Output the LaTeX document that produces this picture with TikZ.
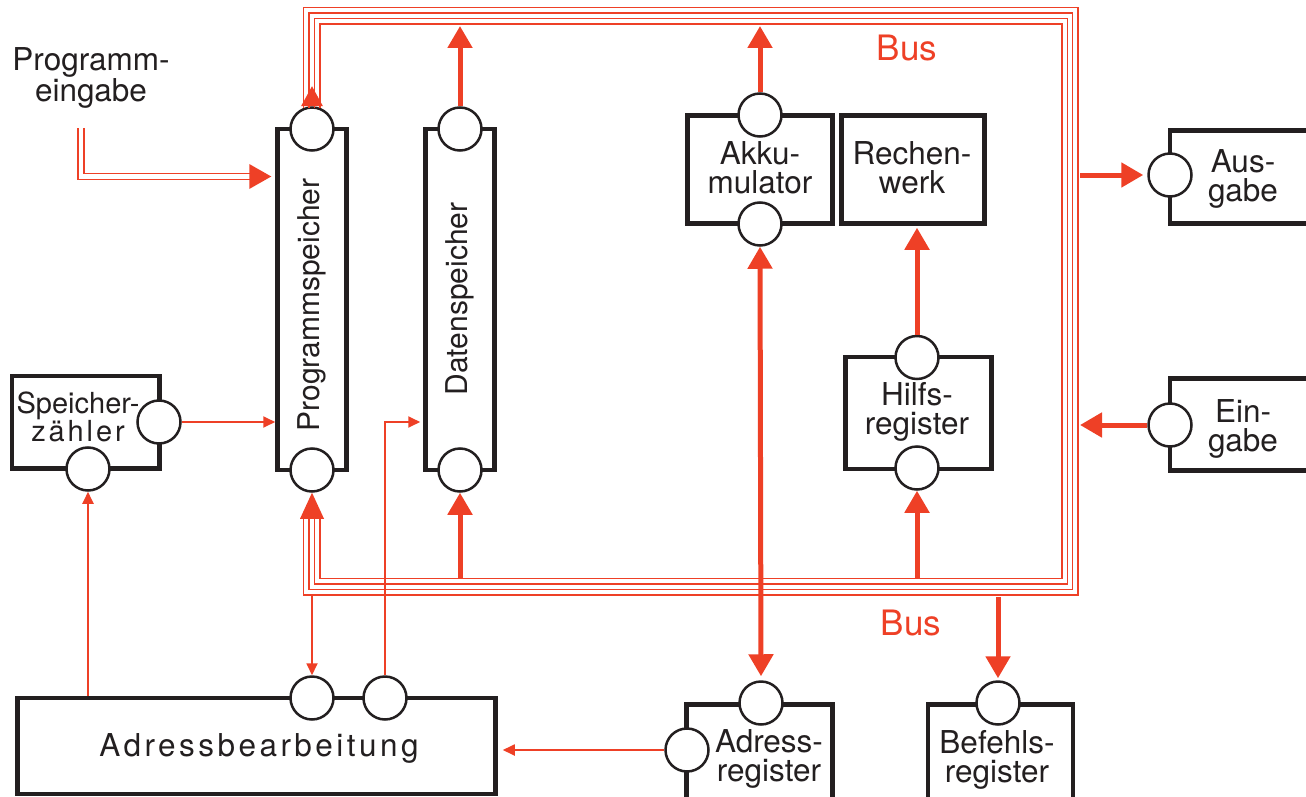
\documentclass[tikz,border=0pt]{standalone}
\usepackage{fontspec}
\setmainfont{TeX Gyre Heros}
\usetikzlibrary{arrows.meta}
\definecolor{busred}{RGB}{238,64,38}
\definecolor{ink}{RGB}{35,31,32}
\begin{document}
\begin{tikzpicture}[x=1pt,y=-1pt,
  box/.style={draw=ink, line width=4.5pt, fill=white, inner sep=0pt},
  port/.style={circle, draw=ink, line width=2.5pt, fill=white, minimum size=43pt, inner sep=0pt},
  txt/.style={font=\fontsize{31.5}{29}\selectfont, align=center, inner sep=0pt, text=ink},
  rtxt/.style={font=\fontsize{30}{29}\selectfont, inner sep=0pt, text=ink, rotate=90},
  buslabel/.style={font=\fontsize{35}{35}\selectfont, inner sep=0pt, text=busred},
  busline/.style={draw=busred, line width=1.6pt, line join=miter},
  dbl/.style={draw=busred, line width=1.6pt, double=white, double distance=4.4pt},
  bigarrow/.style={draw=busred, line width=5pt, -{Triangle[length=22pt,width=24pt]}},
  bigboth/.style={draw=busred, line width=5pt, {Triangle[length=22pt,width=24pt]}-{Triangle[length=22pt,width=24pt]}},
  smallarrow/.style={draw=busred, line width=1.8pt, -{Triangle[length=12pt,width=11pt]}}
]
\useasboundingbox (0,0) rectangle (1306,797);

% boxes
\node[box, minimum width=69pt, minimum height=341pt] (ps) at (312,299.5) {};
\node[box, minimum width=69pt, minimum height=341pt] (ds) at (460,299.5) {};
\node[box, minimum width=145pt, minimum height=108pt] (ak) at (760,169.5) {};
\node[box, minimum width=143pt, minimum height=108pt] (rw) at (913,169.5) {};
\node[box, minimum width=160pt, minimum height=93pt] (aus) at (1250,177) {};
\node[box, minimum width=160pt, minimum height=92pt] (ein) at (1250,424.5) {};
\node[box, minimum width=146pt, minimum height=112pt] (hr) at (918.5,413) {};
\node[box, minimum width=147.5pt, minimum height=92.5pt] (sz) at (85.75,422.25) {};
\node[box, minimum width=478pt, minimum height=96pt] (ab) at (256.5,746) {};
\node[box, minimum width=146pt, minimum height=105.5pt] (ar) at (759.5,757.25) {};
\node[box, minimum width=145pt, minimum height=105.5pt] (br) at (1000.5,757.25) {};

% ports
\node[port] (pst) at (312,129) {};
\node[port] (psb) at (312,470) {};
\node[port] (dst) at (460,129) {};
\node[port] (dsb) at (460,470) {};
\node[port] (akt) at (760,115) {};
\node[port] (akb) at (760,224) {};
\node[port] (hrt) at (917,357.5) {};
\node[port] (hrb) at (917,468) {};
\node[port] (szr) at (159,422) {};
\node[port] (szb) at (88,469) {};
\node[port] (ab1) at (312,698) {};
\node[port] (ab2) at (385,698) {};
\node[port] (art) at (761,703) {};
\node[port] (arl) at (687,750) {};
\node[port] (brc) at (998,703) {};
\node[port] (ausc) at (1170,175) {};
\node[port] (einc) at (1170,425) {};

% texts
\node[txt] (pg) at (91,78) {Programm-\\eingabe};
\node[rtxt] (pstx) at (312,305) {Programmspeicher};
\node[rtxt] (dstx) at (460,299) {Datenspeicher};
\node[txt] (aktx) at (760,168) {Akku-\\mulator};
\node[txt] (rwtx) at (912,168) {Rechen-\\werk};
\node[txt] (austx) at (1243,179) {Aus-\\gabe};
\node[txt] (eintx) at (1243,429) {Ein-\\gabe};
\node[txt] (hrtx) at (917,412) {Hilfs-\\register};
\node[txt, font=\fontsize{29}{28}\selectfont] (sztx) at (78,417) {Speicher-\\{\addfontfeature{LetterSpace=10}zähler}};
\node[txt] (abtx) at (259,748) {\addfontfeature{LetterSpace=11}Adressbearbeitung};
\node[txt] (artx) at (769,759) {Adress-\\register};
\node[txt] (brtx) at (997,760) {Befehls-\\register};
\node[buslabel] (bus1) at (907,48) {Bus};
\node[buslabel] (bus2) at (911,623) {Bus};

% bus (four nested lines)
\foreach \k in {0,1,2,3}{
  \pgfmathsetmacro\xl{303.5+5.5*\k}
  \pgfmathsetmacro\yt{7.5+5.5*\k}
  \pgfmathsetmacro\xr{1078-5.33*\k}
  \pgfmathsetmacro\yb{595-5.5*\k}
  \draw[busline] (\xl,108) -- (\xl,\yt) -- (\xr,\yt) -- (\xr,\yb) -- (\xl,\yb) -- (\xl,519);
}
\coordinate (bti) at (0,26);
\coordinate (bbi) at (0,578.5);
\coordinate (bbo) at (0,594);
\coordinate (bbx) at (0,597);
\coordinate (bro) at (1080,0);
\coordinate (pe) at (81,128);
\coordinate (pinY) at (0,176.5);

% Programmspeicher bus arrowheads
\fill[busred] ([xshift=-11pt]pst.north) -- ([yshift=20pt]pst.north) -- ([xshift=11pt]pst.north) -- cycle;
\fill[busred] (psb.south) -- ([xshift=-12pt,yshift=-26pt]psb.south) -- ([xshift=12pt,yshift=-26pt]psb.south) -- cycle;

% Programmeingabe
\draw[dbl] (pe) |- ([xshift=-22pt]ps.west |- pinY);
\fill[busred] ([xshift=-4pt]ps.west |- pinY) -- ++(-22,-12.5) -- ++(0,25) -- cycle;

% thin connectors
\draw[smallarrow] (szr.east) -- (ps.west |- szr.east);
\draw[smallarrow] (szb.south |- ab.north) -- (szb.south);
\draw[smallarrow] (ab1.north |- bbo) -- (ab1.north);
\draw[smallarrow] (ab2.north) |- ([xshift=-3pt]ds.west |- szr.east);
\draw[smallarrow, shorten >=5pt] (arl.west) -- (ab.east |- arl.west);

% thick connectors
\draw[bigarrow] (dsb.south |- bbi) -- (dsb.south);
\draw[bigarrow] (dst.north) -- (dst.north |- bti);
\draw[bigarrow] (akt.north) -- (akt.north |- bti);
\draw[bigboth] (akb.south) -- ([yshift=4pt]art.north);
\draw[bigarrow] (hrt.north) -- ([yshift=-2pt]rw.south -| hrt.north);
\draw[bigarrow] (hrb.south |- bbi) -- (hrb.south);
\draw[bigarrow] (brc.north |- bbx) -- ([yshift=2pt]brc.north);
\draw[bigarrow] (bro |- ausc.west) -- ([xshift=-4pt]ausc.west);
\draw[bigarrow] (einc.west) -- (bro |- einc.west);
\end{tikzpicture}
\end{document}
